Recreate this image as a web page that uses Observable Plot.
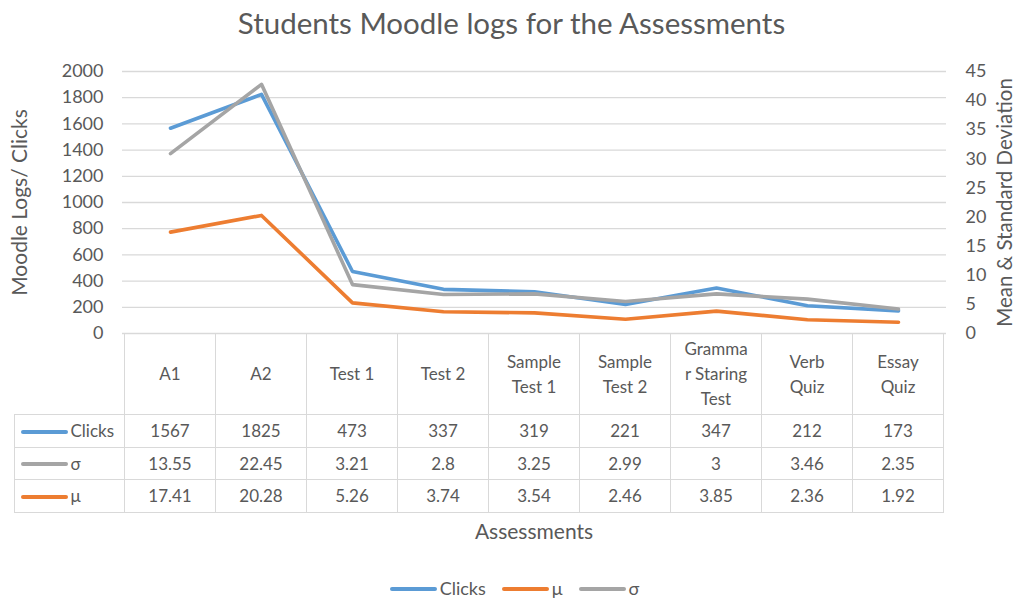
<!DOCTYPE html>
<html>
<head>
<meta charset="utf-8">
<script src="https://cdn.jsdelivr.net/npm/d3@7"></script>
<script src="https://cdn.jsdelivr.net/npm/@observablehq/plot@0.6"></script>
<style>
  body { margin: 0; background: #fff; font-family: Lato, "Open Sans", sans-serif; color: #595959; }
  #wrap { position: relative; width: 1015px; height: 600px; overflow: hidden; background: #fff; }
  #title { position: absolute; left: 4px; top: 0; width: 1015px; height: 45px; line-height: 45px; text-align: center; font-size: 29.5px; }
  #chart { position: absolute; left: 0; top: 45px; }
  #tbl { position: absolute; border-collapse: collapse; table-layout: fixed; font-size: 17px; background: transparent; }
  #tbl td { border: 1px solid #D9D9D9; text-align: center; vertical-align: middle; padding: 0; white-space: nowrap; }
  #tbl td.corner { border-top: none; border-left: none; }
  #tbl td.hdr { line-height: 25px; }
  #tbl td.ser { text-align: left; padding-left: 6px; }
  .key { display: inline-block; width: 47px; height: 4px; border-radius: 2px; vertical-align: middle; margin-right: 3px; position: relative; top: -1px; }
  #xtitle { position: absolute; top: 518px; left: 0; font-size: 21px; text-align: center; }
  #legend { position: absolute; top: 577px; left: 7px; width: 1015px; text-align: center; font-size: 18px; }
  #legend span.item { margin: 0 8px; }
</style>
</head>
<body>
<div id="wrap">
  <div id="title"></div>
  <div id="chart"></div>
  <div id="xtitle"></div>
  <div id="legend"></div>
</div>
<script>
// ---- data ----
const titleText = "Students Moodle logs for the Assessments";
const xTitle = "Assessments";
const yLeftTitle = "Moodle Logs/ Clicks";
const yRightTitle = "Mean & Standard Deviation";
const categories = ["A1", "A2", "Test 1", "Test 2", "Sample Test 1", "Sample Test 2", "Grammar Staring Test", "Verb Quiz", "Essay Quiz"];
const headerLines = [["A1"], ["A2"], ["Test 1"], ["Test 2"], ["Sample", "Test 1"], ["Sample", "Test 2"], ["Gramma", "r Staring", "Test"], ["Verb", "Quiz"], ["Essay", "Quiz"]];
const clicks = [1567, 1825, 473, 337, 319, 221, 347, 212, 173];
const sigmaTable = [13.55, 22.45, 3.21, 2.8, 3.25, 2.99, 3, 3.46, 2.35];
const mu = [17.41, 20.28, 5.26, 3.74, 3.54, 2.46, 3.85, 2.36, 1.92];
// σ line as drawn in the reference (right axis)
const sigmaPlotted = [30.9, 42.8, 8.4, 6.7, 6.8, 5.5, 6.8, 5.9, 4.2];
const leftTicks = [0, 200, 400, 600, 800, 1000, 1200, 1400, 1600, 1800, 2000];
const rightTicks = [0, 5, 10, 15, 20, 25, 30, 35, 40, 45];
const seriesNames = ["Clicks", "μ", "σ"];
const colors = {"Clicks": "#5B9BD5", "μ": "#ED7D31", "σ": "#A5A5A5"};

const L_MAX = leftTicks[leftTicks.length - 1];
const R_MAX = rightTicks[rightTicks.length - 1];
const toLeft = v => v * L_MAX / R_MAX;

const data = categories.map((c, i) => ({c, clicks: clicks[i], mu: mu[i], sigma: sigmaPlotted[i]}));
const lineOpts = {strokeWidth: 3.6, strokeLinejoin: "round", strokeLinecap: "round"};

const chart = Plot.plot({
  width: 1015, height: 300,
  marginTop: 26, marginBottom: 12, marginLeft: 122, marginRight: 69,
  x: {type: "point", domain: categories, padding: 0.5, axis: null},
  y: {domain: [0, L_MAX], axis: null},
  style: {fontFamily: "Lato, 'Open Sans', sans-serif", fontSize: "18px", color: "#595959", background: "transparent", overflow: "visible"},
  marks: [
    Plot.ruleY(leftTicks, {y: d => d, stroke: "#D9D9D9", strokeWidth: 1.3}),
    Plot.text(leftTicks, {y: d => d, text: d => String(d), frameAnchor: "left", textAnchor: "end", dx: -19, fill: "#595959"}),
    Plot.text(rightTicks, {y: d => toLeft(d), text: d => String(d), frameAnchor: "right", textAnchor: "start", dx: 19, fill: "#595959"}),
    Plot.text([yLeftTitle], {text: d => d, frameAnchor: "left", textAnchor: "middle", rotate: -90, dx: -102, fontSize: 21, fill: "#595959"}),
    Plot.text([yRightTitle], {text: d => d, frameAnchor: "right", textAnchor: "middle", rotate: -90, dx: 59, fontSize: 20.5, fill: "#595959"}),
    Plot.line(data, {x: "c", y: "clicks", stroke: colors["Clicks"], ...lineOpts}),
    Plot.line(data, {x: "c", y: d => toLeft(d.mu), stroke: colors["μ"], ...lineOpts}),
    Plot.line(data, {x: "c", y: d => toLeft(d.sigma), stroke: colors["σ"], ...lineOpts})
  ]
});
document.getElementById("chart").appendChild(chart);
document.getElementById("title").textContent = titleText;

// ---- data table aligned to the x scale ----
const sx = chart.scale("x");
const sy = chart.scale("y");
const step = sx.apply(categories[1]) - sx.apply(categories[0]);
const colLeft = sx.apply(categories[0]) - step / 2;
const plotTopOffset = 45;
const tableTop = plotTopOffset + sy.apply(0);
const tableLeft = 14;
const rowH = [81, 33, 32, 33];

const tbl = document.createElement("table");
tbl.id = "tbl";
tbl.style.left = (tableLeft - 0.5) + "px";
tbl.style.top = (tableTop - 0.5) + "px";
const cg = document.createElement("colgroup");
const c0 = document.createElement("col"); c0.style.width = (colLeft - tableLeft) + "px"; cg.appendChild(c0);
categories.forEach(() => { const c = document.createElement("col"); c.style.width = step + "px"; cg.appendChild(c); });
tbl.appendChild(cg);
tbl.style.width = (colLeft - tableLeft + step * categories.length) + "px";

const hr = document.createElement("tr"); hr.style.height = rowH[0] + "px";
const corner = document.createElement("td"); corner.className = "corner"; hr.appendChild(corner);
headerLines.forEach(lines => {
  const td = document.createElement("td"); td.className = "hdr";
  lines.forEach((l, i) => { if (i) td.appendChild(document.createElement("br")); td.appendChild(document.createTextNode(l)); });
  hr.appendChild(td);
});
tbl.appendChild(hr);

const rows = [["Clicks", clicks], ["σ", sigmaTable], ["μ", mu]];
rows.forEach(([name, vals], r) => {
  const tr = document.createElement("tr"); tr.style.height = rowH[r + 1] + "px";
  const td0 = document.createElement("td"); td0.className = "ser";
  const key = document.createElement("span"); key.className = "key"; key.style.background = colors[name];
  td0.appendChild(key); td0.appendChild(document.createTextNode(name));
  tr.appendChild(td0);
  vals.forEach(v => { const td = document.createElement("td"); td.textContent = String(v); tr.appendChild(td); });
  tbl.appendChild(tr);
});
document.getElementById("wrap").appendChild(tbl);

// x-axis title centred on plot area
const xt = document.getElementById("xtitle");
xt.textContent = xTitle;
xt.style.left = colLeft + "px";
xt.style.width = (step * categories.length) + "px";

// legend
const lg = document.getElementById("legend");
seriesNames.forEach(n => {
  const it = document.createElement("span"); it.className = "item";
  const k = document.createElement("span"); k.className = "key"; k.style.background = colors[n];
  it.appendChild(k); it.appendChild(document.createTextNode(n));
  lg.appendChild(it);
});
</script>
</body>
</html>
